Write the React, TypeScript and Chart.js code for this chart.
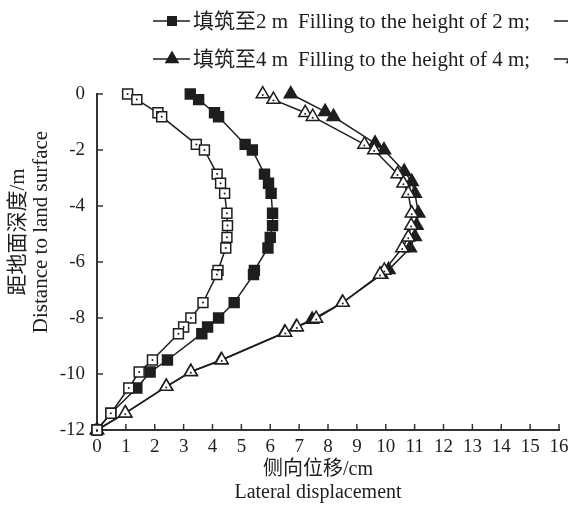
import React, { useEffect, useRef } from "react";
import { Chart, registerables } from "chart.js";

Chart.register(...registerables);

// Depth below land surface (m)
const depthOpenSquare = [0, -0.2, -0.67, -0.81, -1.8, -2.0, -2.86, -3.19, -3.55, -4.26, -4.7, -5.12, -5.5, -6.3, -6.45, -7.45, -8.0, -8.32, -8.56, -9.5, -9.93, -10.5, -11.4, -12];
const dispOpenSquare = [1.06, 1.38, 2.11, 2.24, 3.44, 3.72, 4.16, 4.28, 4.42, 4.5, 4.52, 4.5, 4.46, 4.19, 4.15, 3.67, 3.25, 3.0, 2.82, 1.92, 1.46, 1.1, 0.48, 0];

const depthFilledSquare = [0, -0.2, -0.67, -0.81, -1.8, -2.0, -2.86, -3.19, -3.55, -4.26, -4.7, -5.12, -5.5, -6.3, -6.45, -7.45, -8.0, -8.32, -8.56, -9.5, -9.93, -10.5, -11.4, -12];
const dispFilledSquare = [3.23, 3.52, 4.07, 4.21, 5.13, 5.38, 5.8, 5.94, 6.03, 6.08, 6.08, 6.0, 5.92, 5.45, 5.42, 4.75, 4.21, 3.83, 3.63, 2.44, 1.84, 1.38, 0.48, 0];

const depthOpenTriangle = [0, -0.2, -0.67, -0.81, -1.8, -2.0, -2.86, -3.19, -3.55, -4.26, -4.7, -5.12, -5.5, -6.3, -6.45, -7.45, -8.02, -8.32, -8.52, -9.5, -9.92, -10.45, -11.4, -12];
const dispOpenTriangle = [5.74, 6.11, 7.21, 7.47, 9.26, 9.6, 10.41, 10.61, 10.78, 10.9, 10.88, 10.78, 10.57, 9.95, 9.8, 8.51, 7.59, 6.92, 6.52, 4.32, 3.25, 2.4, 0.98, 0];

const depthFilledTriangle = [0, -0.63, -0.81, -1.76, -2.0, -2.77, -3.13, -3.55, -4.26, -4.7, -5.1, -5.5, -6.28, -6.45, -7.45, -8.05, -8.32, -8.52, -9.5, -9.92, -10.45, -11.4, -12];
const dispFilledTriangle = [6.71, 7.9, 8.19, 9.63, 9.94, 10.64, 10.9, 11.01, 11.13, 11.07, 11.01, 10.84, 10.1, 9.85, 8.5, 7.45, 6.9, 6.5, 4.3, 3.25, 2.4, 0.98, 0];

const seriesCn = ["填筑至2 m", "填筑至1 m", "填筑至4 m", "填筑至3 m"];
const seriesEn = [
  "Filling to the height of 2 m;",
  "Filling to the height of 1 m;",
  "Filling to the height of 4 m;",
  "Filling to the height of 3 m;",
];

const xTitle = ["侧向位移/cm", "Lateral displacement"];
const yTitle = ["距地面深度/m", "Distance to land surface"];

const INK = "#1e1e1e";
const SERIF = "'Liberation Serif', 'Noto Sans CJK SC', serif";

const toPoints = (xs: number[], ys: number[]) => xs.map((x, i) => ({ x, y: ys[i] }));

function drawMarker(ctx: CanvasRenderingContext2D, style: string, filled: boolean, x: number, y: number, r: number) {
  ctx.save();
  ctx.beginPath();
  if (style === "rect") {
    const s = Math.SQRT1_2 * r;
    ctx.rect(x - s, y - s, 2 * s, 2 * s);
  } else {
    const h = r;
    ctx.moveTo(x, y - h);
    ctx.lineTo(x + h * 0.866, y + h * 0.5);
    ctx.lineTo(x - h * 0.866, y + h * 0.5);
    ctx.closePath();
  }
  ctx.fillStyle = filled ? INK : "#ffffff";
  ctx.fill();
  ctx.lineWidth = 1.5;
  ctx.strokeStyle = INK;
  ctx.stroke();
  ctx.restore();
}

export default function App() {
  const ref = useRef<HTMLCanvasElement | null>(null);

  useEffect(() => {
    document.body.style.margin = "0";
    const canvas = ref.current;
    if (!canvas) return;

    const common = {
      showLine: true,
      clip: false as any,
      borderColor: INK,
      borderWidth: 1.5,
      pointBorderColor: INK,
      pointBorderWidth: 1.5,
    };

    const legendItems = [
      { style: "rect", filled: true, col: 0, row: 0, idx: 0 },
      { style: "rect", filled: false, col: 1, row: 0, idx: 1 },
      { style: "triangle", filled: true, col: 0, row: 1, idx: 2 },
      { style: "triangle", filled: false, col: 1, row: 1, idx: 3 },
    ];

    const decorPlugin = {
      id: "decor",
      afterDatasetsDraw(chart: any) {
        const ctx = chart.ctx as CanvasRenderingContext2D;
        // inner dots of open markers
        chart.data.datasets.forEach((ds: any, di: number) => {
          if (!ds.openMarker) return;
          const meta = chart.getDatasetMeta(di);
          meta.data.forEach((pt: any) => {
            ctx.save();
            ctx.beginPath();
            ctx.arc(pt.x, ds.pointStyle === "triangle" ? pt.y + 1 : pt.y, 1, 0, Math.PI * 2);
            ctx.fillStyle = INK;
            ctx.fill();
            ctx.restore();
          });
        });
      },
      afterDraw(chart: any) {
        const ctx = chart.ctx as CanvasRenderingContext2D;
        const xs = chart.scales.x;
        const ys = chart.scales.y;
        const area = chart.chartArea;
        ctx.save();
        ctx.strokeStyle = "#333";
        ctx.lineWidth = 1.5;
        // inward tick marks
        for (let v = 1; v <= 16; v++) {
          const px = xs.getPixelForValue(v);
          ctx.beginPath();
          ctx.moveTo(px, area.bottom);
          ctx.lineTo(px, area.bottom - 6);
          ctx.stroke();
        }
        for (let v = -10; v <= 0; v += 2) {
          const py = ys.getPixelForValue(v);
          ctx.beginPath();
          ctx.moveTo(area.left, py);
          ctx.lineTo(area.left + 6, py);
          ctx.stroke();
        }
        // axis titles
        ctx.fillStyle = INK;
        ctx.font = `20px ${SERIF}`;
        ctx.textAlign = "center";
        ctx.textBaseline = "middle";
        const cx = (area.left + area.right) / 2 - 10;
        ctx.fillText(xTitle[0], cx, 470);
        ctx.fillText(xTitle[1], cx, 493);
        ctx.font = `21px ${SERIF}`;
        ctx.save();
        ctx.translate(18, (area.top + area.bottom) / 2 - 30);
        ctx.rotate(-Math.PI / 2);
        ctx.fillText(yTitle[0], 0, 0);
        ctx.restore();
        ctx.save();
        ctx.translate(41, (area.top + area.bottom) / 2 - 30);
        ctx.rotate(-Math.PI / 2);
        ctx.fillText(yTitle[1], 0, 0);
        ctx.restore();
        // legend
        legendItems.forEach((it) => {
          const x0 = it.col === 0 ? 153 : 554;
          const y0 = it.row === 0 ? 21 : 59;
          ctx.save();
          ctx.strokeStyle = INK;
          ctx.lineWidth = 1.5;
          ctx.beginPath();
          ctx.moveTo(x0, y0);
          ctx.lineTo(x0 + 37, y0);
          ctx.stroke();
          ctx.restore();
          drawMarker(ctx, it.style, it.filled, x0 + 19, y0, it.style === "rect" ? 6 : 7);
          ctx.fillStyle = INK;
          ctx.font = `21px ${SERIF}`;
          ctx.textAlign = "left";
          ctx.textBaseline = "middle";
          ctx.fillText(seriesCn[it.idx], x0 + 40, y0 + 1);
          ctx.fillText(seriesEn[it.idx], x0 + 145, y0 + 1);
        });
        ctx.restore();
      },
    };

    const chart = new Chart(canvas, {
      type: "scatter",
      data: {
        datasets: [
          {
            ...common,
            label: seriesCn[1],
            data: toPoints(dispOpenSquare, depthOpenSquare),
            pointStyle: "rect",
            pointRadius: 7,
            pointBackgroundColor: "#ffffff",
            openMarker: true,
          } as any,
          {
            ...common,
            label: seriesCn[0],
            data: toPoints(dispFilledSquare, depthFilledSquare),
            pointStyle: "rect",
            pointRadius: 7,
            pointBackgroundColor: INK,
          },
          {
            ...common,
            label: seriesCn[3],
            data: toPoints(dispOpenTriangle, depthOpenTriangle),
            pointStyle: "triangle",
            pointRadius: 7.5,
            pointBackgroundColor: "#ffffff",
            openMarker: true,
          } as any,
          {
            ...common,
            label: seriesCn[2],
            data: toPoints(dispFilledTriangle, depthFilledTriangle),
            pointStyle: "triangle",
            pointRadius: 7.5,
            pointBackgroundColor: INK,
          },
        ],
      },
      options: {
        animation: false,
        responsive: false,
        events: [],
        layout: { padding: { top: 94, right: 9, left: 0, bottom: 0 } },
        plugins: { legend: { display: false }, tooltip: { enabled: false } },
        scales: {
          x: {
            type: "linear",
            min: 0,
            max: 16,
            ticks: { stepSize: 1, font: { family: SERIF, size: 19 }, color: INK, padding: 6 },
            grid: { display: true, drawOnChartArea: false, drawTicks: false },
            border: { display: true, color: "#333", width: 2 },
            afterFit: (s: any) => { s.height = 80; s.paddingRight = 0; s.paddingLeft = 0; },
          },
          y: {
            type: "linear",
            min: -12,
            max: 0,
            ticks: { stepSize: 2, font: { family: SERIF, size: 19 }, color: INK, padding: 12 },
            grid: { display: true, drawOnChartArea: false, drawTicks: false },
            border: { display: true, color: "#333", width: 2 },
            afterFit: (s: any) => { s.width = 97; s.paddingTop = 0; s.paddingBottom = 0; },
          },
        },
      },
      plugins: [decorPlugin],
    });

    return () => chart.destroy();
  }, []);

  return (
    <div style={{ width: 568, height: 510, background: "#ffffff" }}>
      <canvas ref={ref} width={568} height={510} />
    </div>
  );
}
